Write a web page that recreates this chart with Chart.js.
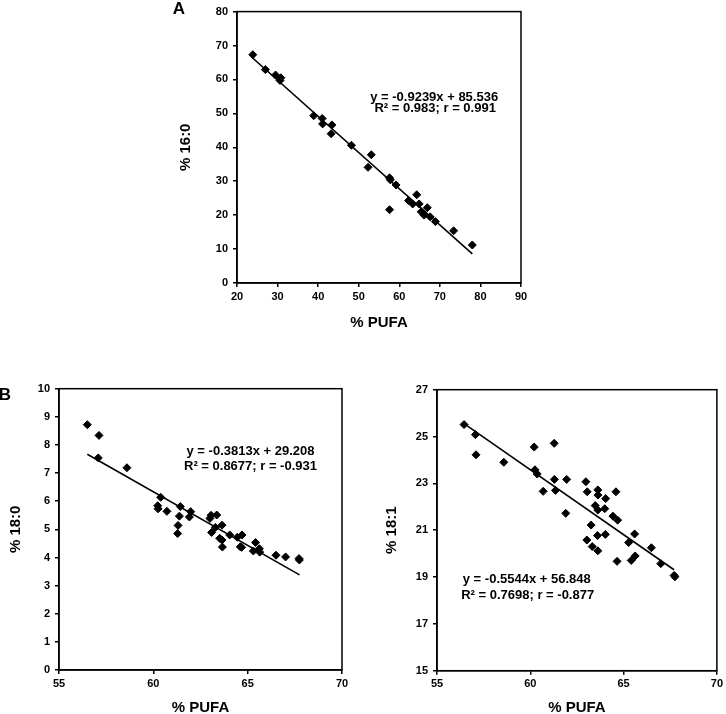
<!DOCTYPE html>
<html><head><meta charset="utf-8">
<script src="https://cdn.jsdelivr.net/npm/chart.js@4/dist/chart.umd.min.js"></script>
<style>
html,body{margin:0;padding:0;width:726px;height:714px;overflow:hidden;background:#fff;position:relative;}
canvas{position:absolute;}
</style></head><body>
<canvas id="cA" width="400" height="345" style="left:150px;top:0px"></canvas>
<canvas id="cB" width="363" height="380" style="left:0px;top:350px"></canvas>
<canvas id="cC" width="363" height="380" style="left:363px;top:350px"></canvas>
<script>
// ---- Panel A: % 16:0 vs % PUFA ----
const aPufa = [23.9, 27.0, 29.5, 30.8, 30.6, 38.9, 41.0, 41.1, 43.4, 43.2, 48.2, 53.1, 52.3, 57.6, 57.8, 59.2, 57.6, 64.3, 62.3, 63.3, 64.9, 66.9, 65.4, 66.1, 67.6, 68.9, 73.4, 78.0];
const aPalmitic = [67.3, 62.9, 61.3, 60.5, 59.7, 49.3, 48.5, 46.9, 46.6, 44.0, 40.6, 37.8, 34.1, 31.0, 30.4, 28.9, 21.6, 26.0, 24.3, 23.3, 23.3, 22.2, 21.0, 20.0, 19.5, 18.1, 15.4, 11.2];
const aTrendX = [23.8, 78.0];
const aTrendY = [66.4, 8.6];
const aEquation = ["y = -0.9239x + 85.536", "R\u00B2 = 0.983; r = 0.991"];

// ---- Panel B: % 18:0 vs % PUFA ----
const bPufa = [56.50,57.12,57.08,58.60,60.23,60.25,60.39,60.72,61.43,61.38,61.31,61.29,61.98,61.91,63.00,63.06,63.36,63.09,63.29,63.64,63.52,63.64,63.66,64.05,64.45,64.70,64.61,64.68,65.42,65.30,65.62,65.64,66.50,67.01,67.72,67.74];
const bStearic = [8.72,8.34,7.54,7.19,5.84,5.73,6.14,5.64,5.81,5.47,5.14,4.85,5.63,5.44,5.39,5.50,5.51,4.89,5.07,5.15,4.68,4.62,4.37,4.80,4.72,4.80,4.38,4.36,4.53,4.23,4.31,4.19,4.08,4.02,3.96,3.91];
const bTrendX = [56.5, 67.75];
const bTrendY = [7.67, 3.38];
const bEquation = ["y = -0.3813x + 29.208", "R\u00B2 = 0.8677; r = -0.931"];

// ---- Panel C: % 18:1 vs % PUFA ----
const cPufa = [56.45,57.06,57.09,58.58,60.21,61.28,60.25,60.37,60.69,61.29,61.35,61.95,61.90,62.98,63.05,63.48,63.26,63.03,63.32,63.62,63.63,63.62,63.60,63.62,64.04,63.99,64.02,64.59,64.43,64.68,64.65,65.27,65.59,65.41,65.62,66.49,66.99,67.71,67.75];
const cOleic = [25.51,25.08,24.22,23.90,24.55,24.71,23.58,23.40,22.66,23.17,22.70,23.17,21.72,23.07,22.64,22.05,21.22,20.58,20.30,22.72,22.50,21.86,20.77,20.12,22.35,21.92,20.82,22.64,21.60,21.43,19.67,20.47,20.84,19.71,19.90,20.25,19.57,19.07,19.01];
const cTrendX = [56.45, 67.7];
const cTrendY = [25.55, 19.31];
const cEquation = ["y = -0.5544x + 56.848", "R\u00B2 = 0.7698; r = -0.877"];

// axis ranges [min, max, step]
const aXRange = [20, 90, 10], aYRange = [0, 80, 10];
const bXRange = [55, 70, 5], bYRange = [0, 10, 1];
const cXRange = [55, 70, 5], cYRange = [15, 27, 2];

const FONT = "'Liberation Sans', Arial, Helvetica, sans-serif";
const zip = (xs, ys) => xs.map((x, i) => ({x, y: ys[i]}));

const notesPlugin = {
  id: 'notes',
  afterDraw(chart, args, opts) {
    const ctx = chart.ctx, a = chart.chartArea;
    const sx = chart.scales.x, sy = chart.scales.y;
    ctx.save();
    ctx.strokeStyle = '#000'; ctx.lineWidth = 1.5;
    ctx.strokeRect(a.left, a.top, a.right - a.left, a.bottom - a.top);
    ctx.fillStyle = '#000';
    ctx.textAlign = 'center'; ctx.textBaseline = 'middle';
    ctx.font = 'bold 13px ' + FONT;
    (opts.lines || []).forEach(l => ctx.fillText(l.text, sx.getPixelForValue(l.x), sy.getPixelForValue(l.y)));
    if (opts.panel) {
      ctx.font = 'bold 17px ' + FONT;
      ctx.fillText(opts.panel.text, opts.panel.px, opts.panel.py);
    }
    ctx.restore();
  }
};

function makeChart(id, cfg) {
  const canvas = document.getElementById(id);
  const H = canvas.height, W = canvas.width;
  new Chart(canvas, {
    type: 'scatter',
    data: {
      datasets: [
        { data: zip(cfg.xs, cfg.ys), pointStyle: 'rectRot', pointRadius: 4, pointHoverRadius: 4,
          backgroundColor: '#000', borderColor: '#000', borderWidth: 1 },
        { data: zip(cfg.tx, cfg.ty), showLine: true, borderColor: '#000', borderWidth: 1.6,
          pointRadius: 0, fill: false }
      ]
    },
    options: {
      responsive: false, animation: false, devicePixelRatio: 1,
      layout: { padding: { top: cfg.top, right: W - cfg.right, left: 0, bottom: 0 } },
      plugins: { legend: { display: false }, tooltip: { enabled: false },
        notes: { lines: cfg.lines, panel: cfg.panel } },
      scales: {
        x: {
          type: 'linear', min: cfg.xr[0], max: cfg.xr[1],
          ticks: { stepSize: cfg.xr[2], color: '#000', padding: 3, font: { family: FONT, size: 11, weight: 'bold' } },
          grid: { drawOnChartArea: false, drawTicks: true, tickLength: 4, color: '#000', lineWidth: 1.5 },
          border: { display: true, color: '#000', width: 1.5 },
          title: { display: true, text: '% PUFA', color: '#000',
            font: { family: FONT, size: 15, weight: 'bold', lineHeight: 1.2 },
            padding: { top: 0, bottom: H - cfg.xTitleY - 9 } },
          afterFit: s => { s.height = H - cfg.bottom; }
        },
        y: {
          type: 'linear', min: cfg.yr[0], max: cfg.yr[1],
          ticks: { stepSize: cfg.yr[2], color: '#000', padding: 5, font: { family: FONT, size: 11, weight: 'bold' } },
          grid: { drawOnChartArea: false, drawTicks: true, tickLength: 4, color: '#000', lineWidth: 1.5 },
          border: { display: true, color: '#000', width: 1.5 },
          title: { display: true, text: cfg.yTitle, color: '#000',
            font: { family: FONT, size: 15, weight: 'bold', lineHeight: 1.2 },
            padding: { top: cfg.yTitleX - 9, bottom: 0 } },
          afterFit: s => { s.width = cfg.left; }
        }
      }
    },
    plugins: [notesPlugin]
  });
}

makeChart('cA', {
  xs: aPufa, ys: aPalmitic, tx: aTrendX, ty: aTrendY, xr: aXRange, yr: aYRange,
  left: 87, right: 371, top: 5, bottom: 283, xTitleY: 322.5, yTitleX: 36, yTitle: '% 16:0',
  lines: [{text: aEquation[0], x: 68.6, y: 54.8}, {text: aEquation[1], x: 68.85, y: 51.5}],
  panel: {text: 'A', px: 29, py: 9}
});
makeChart('cB', {
  xs: bPufa, ys: bStearic, tx: bTrendX, ty: bTrendY, xr: bXRange, yr: bYRange,
  left: 59, right: 342, top: 38.7, bottom: 320, xTitleY: 358, yTitleX: 15.7, yTitle: '% 18:0',
  lines: [{text: bEquation[0], x: 65.15, y: 7.76}, {text: bEquation[1], x: 65.15, y: 7.23}],
  panel: {text: 'B', px: 5, py: 45}
});
makeChart('cC', {
  xs: cPufa, ys: cOleic, tx: cTrendX, ty: cTrendY, xr: cXRange, yr: cYRange,
  left: 74, right: 356, top: 39.7, bottom: 320.7, xTitleY: 358, yTitleX: 29.3, yTitle: '% 18:1',
  lines: [{text: cEquation[0], x: 59.81, y: 18.90}, {text: cEquation[1], x: 59.86, y: 18.23}]
});
</script>
</body></html>
